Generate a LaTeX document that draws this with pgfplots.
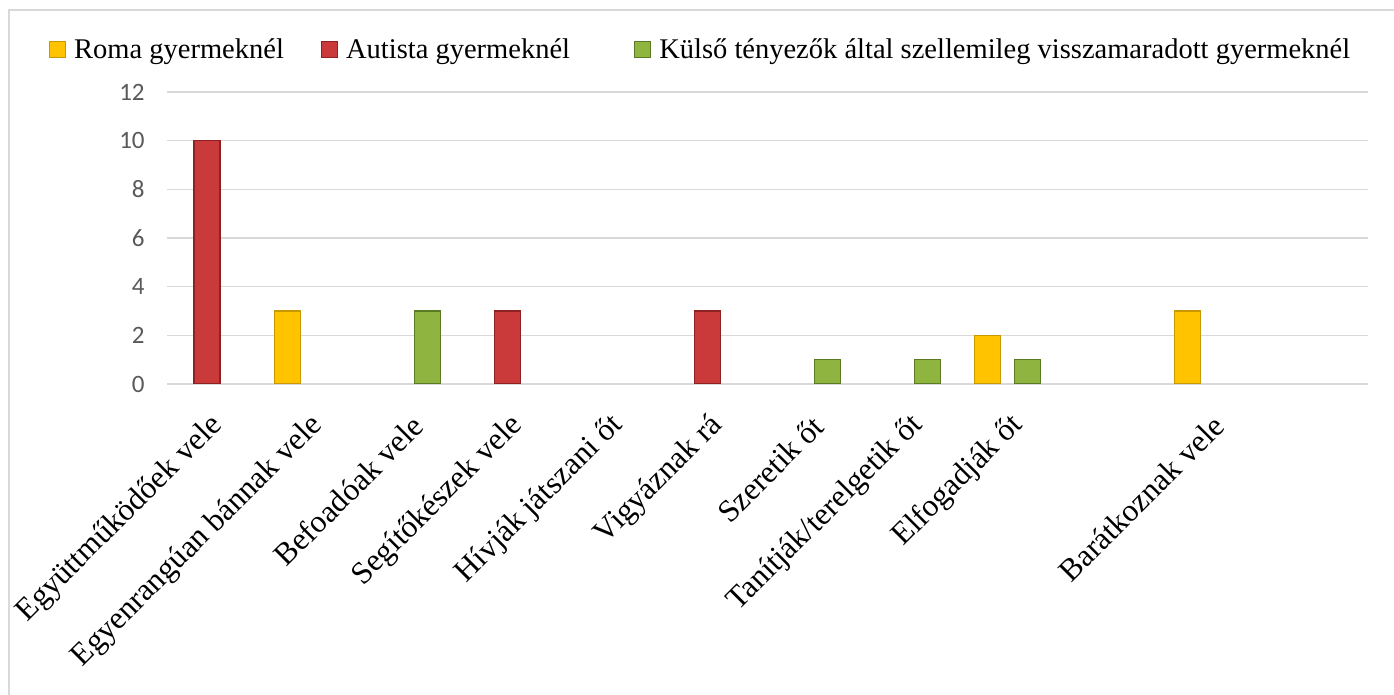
\documentclass[border=0pt]{standalone}
\usepackage{fontspec}
\setmainfont{Liberation Serif}
\newfontfamily\carlito{Carlito}
\newfontfamily\timesf{Liberation Serif}
\usepackage{pgfplots}
\pgfplotsset{compat=1.18}
\definecolor{gridgray}{HTML}{D9D9D9}
\definecolor{tickgray}{HTML}{595959}
\definecolor{romaY}{HTML}{FFC300}
\definecolor{romaYd}{HTML}{C99700}
\definecolor{autR}{HTML}{CB3A3A}
\definecolor{autRd}{HTML}{8E2222}
\definecolor{kulG}{HTML}{8FB440}
\definecolor{kulGd}{HTML}{5B7A24}
\newcommand{\legf}{\timesf\fontsize{14.25}{16}\selectfont}
\begin{document}
\begin{tikzpicture}
\useasboundingbox (0,0) rectangle (697pt,347.5pt);
\draw[gridgray, line width=0.75pt] (4.5pt,0) -- (4.5pt,342.5pt) -- (697pt,342.5pt);
\begin{axis}[
  at={(83.5pt,155.5pt)}, anchor=south west,
  scale only axis, width=600.5pt, height=146pt,
  xmin=-0.5, xmax=11.5, ymin=0, ymax=12,
  ytick={0,2,...,12},
  xtick={0,...,11},
  xticklabels={Együttműködőek vele, Egyenrangúan bánnak vele, Befoadóak vele, Segítőkészek vele, Hívják játszani őt, Vigyáznak rá, Szeretik őt, Tanítják/terelgetik őt, Elfogadják őt, {}, Barátkoznak vele, {}},
  ymajorgrids, major grid style={gridgray, line width=0.7pt},
  axis line style={draw=none},
  tick style={draw=none},
  /pgf/number format/assume math mode=true,
  yticklabel style={font=\carlito\fontsize{12.5}{14}\selectfont, text=tickgray, inner sep=0pt, xshift=-11pt},
  xticklabel style={font=\timesf\fontsize{15.7}{18}\selectfont, inner sep=0pt, xshift=0.5pt, yshift=-18.5pt, rotate=45, anchor=east},
  legend columns=-1,
  legend style={at={(axis description cs:-0.09825,1.1425)}, anchor=west, draw=none, fill=none,
    inner sep=0pt, outer sep=0pt, font=\legf, text=black,
    nodes={inner sep=0pt},
    /tikz/column 1/.style={column sep=4pt},
    /tikz/column 2/.style={column sep=18.5pt},
    /tikz/column 3/.style={column sep=4pt},
    /tikz/column 4/.style={column sep=32pt},
    /tikz/column 5/.style={column sep=4pt}},
  legend image code/.code={\path[#1] (0pt,-3.4pt) rectangle (8pt,4.6pt);},
]
\addplot[ybar, bar width=13pt, bar shift=-15pt, draw=romaYd, line width=0.6pt, fill=romaY]
  coordinates {(1,3) (8,2) (10,3)};
\addlegendentry{\legf Roma gyermeknél}
\addplot[ybar, bar width=13pt, bar shift=-5pt, draw=autRd, line width=0.6pt, fill=autR]
  coordinates {(0,10) (3,3) (5,3)};
\addlegendentry{\legf Autista gyermeknél}
\addplot[ybar, bar width=13pt, bar shift=5pt, draw=kulGd, line width=0.6pt, fill=kulG]
  coordinates {(2,3) (6,1) (7,1) (8,1)};
\addlegendentry{\legf Külső tényezők által szellemileg visszamaradott gyermeknél}
\end{axis}
\end{tikzpicture}
\end{document}
